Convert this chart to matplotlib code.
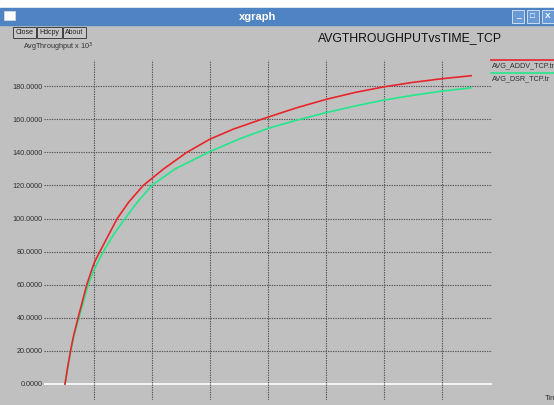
import matplotlib.pyplot as plt
from matplotlib.patches import Rectangle

# time (s) and average throughput (x 10^3)
addv_time = [10, 11, 12, 13, 14.8, 17.5, 20, 22, 25, 28, 32, 37, 44, 52, 60, 68, 77.8, 90, 100, 110, 120, 130, 140, 150]
addv_tcp = [0, 11, 21, 29.5, 42, 60, 73, 80, 90, 100, 110, 120, 130, 140, 148, 154, 160, 167, 172, 176.2, 179.6, 182.3, 184.5, 186.3]
dsr_time = [10, 11, 12, 13, 14.8, 18, 20, 23.2, 27, 30.7, 35, 39.9, 48, 59.4, 70, 80, 90, 100, 110, 120, 130, 140, 150]
dsr_tcp = [0, 10.5, 20, 28.5, 40, 60, 69, 80, 91, 100, 110, 120, 130, 140, 148, 154.5, 159.5, 164, 168, 171.6, 174.5, 177, 179]

y_ticks = [0, 20, 40, 60, 80, 100, 120, 140, 160, 180]
x_ticks = [20, 40, 60, 80, 100, 120, 140]

W, H = 554, 405
bg = '#c0c0c0'
red = '#e8252a'
green = '#22e88a'
plt.rcParams['font.family'] = ['Liberation Sans', 'DejaVu Sans']

fig = plt.figure(figsize=(W / 100, H / 100), dpi=100, facecolor=bg)

# window decorations drawn in pixel coordinates
deco = fig.add_axes([0, 0, 1, 1])
deco.set_xlim(0, W)
deco.set_ylim(H, 0)
deco.axis('off')
deco.add_patch(Rectangle((0, 0), W, 8, color='white'))
deco.add_patch(Rectangle((0, 8), W, 17, color='#4f84c4'))
deco.add_patch(Rectangle((4, 11), 11, 9, facecolor='white', edgecolor='#dddddd', lw=0.5))
deco.text(258, 17, 'xgraph', color='white', fontsize=8, fontweight='bold', ha='center', va='center')
for bx, sym in [(512, '_'), (527, '\u25a1'), (542, 'X')]:
    deco.add_patch(Rectangle((bx, 10), 12, 13, facecolor='#6a9ad6', edgecolor='#e0e8f4', lw=0.6))
    deco.text(bx + 6, 16.5, sym, color='white', fontsize=6, fontweight='bold', ha='center', va='center')

for bx, bw, label in [(13, 23, 'Close'), (37, 25, 'Hdcpy'), (63, 23, 'About')]:
    deco.add_patch(Rectangle((bx, 27), bw, 11, facecolor='#c8c8c8', edgecolor='#404040', lw=0.7))
    deco.text(bx + bw / 2, 32.7, label, fontsize=5, ha='center', va='center', color='#202020')

deco.text(23, 47, r'AvgThroughput x 10$^3$', fontsize=5.2, va='center', color='#303030')
deco.text(410, 38, 'AVGTHROUGHPUTvsTIME_TCP', fontsize=8.8, ha='center', va='center', color='#101010')

# legend (cut at the window edge, as in the screenshot)
deco.plot([491, W], [60, 60], color=red, lw=1.2)
deco.text(492, 66, 'AVG_ADDV_TCP.tr', fontsize=5.2, va='center', color='#303030')
deco.plot([491, W], [73, 73], color=green, lw=1.2)
deco.text(492, 79, 'AVG_DSR_TCP.tr', fontsize=5.2, va='center', color='#303030')
deco.text(545, 398, 'Tim', fontsize=5.5, va='center', color='#303030')

# plot area
ax = fig.add_axes([44 / W, (H - 400) / H, 448 / W, 340 / H])
ax.patch.set_alpha(0)
ax.set_xlim(2.76, 157.2)
ax.set_ylim(-9.67, 195.8)
for s in ax.spines.values():
    s.set_visible(False)

for yv in y_ticks:
    if yv == 0:
        ax.axhline(yv, color='white', lw=1.2, zorder=1)
    else:
        ax.axhline(yv, color='#555555', lw=0.8, ls=(0, (1.2, 1)), zorder=1)
for xv in x_ticks:
    ax.axvline(xv, color='#555555', lw=0.8, ls=(0, (1.2, 1)), zorder=1)

ax.plot(addv_time, addv_tcp, color=red, lw=1.2, zorder=3)
ax.plot(dsr_time, dsr_tcp, color=green, lw=1.2, zorder=2)

ax.set_yticks(y_ticks)
ax.set_yticklabels(['%.4f' % v for v in y_ticks], fontsize=5.2, color='#303030')
ax.set_xticks(x_ticks)
ax.set_xticklabels(['%.4f' % v for v in x_ticks], fontsize=5.2, color='#303030')
ax.tick_params(axis='both', length=0, pad=1)
ax.tick_params(axis='x', pad=4)

fig.savefig('out.png', dpi=100, facecolor=bg)
